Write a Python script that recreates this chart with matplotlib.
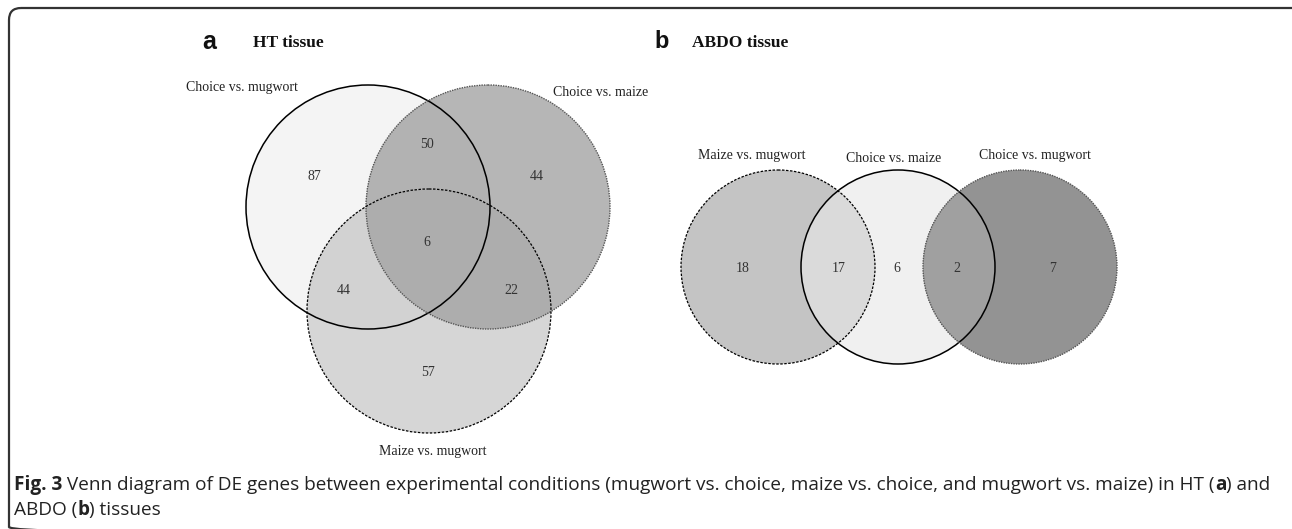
import matplotlib
matplotlib.use("Agg")
import matplotlib.pyplot as plt
from matplotlib.patches import Circle, FancyBboxPatch

# panel a: HT tissue
ht_sets = ["Choice vs. mugwort", "Choice vs. maize", "Maize vs. mugwort"]
# regions: only1, only2, only3, 1&2, 1&3, 2&3, 1&2&3
ht_counts = [87, 44, 57, 50, 44, 22, 6]

# panel b: ABDO tissue (left, middle, right)
abdo_sets = ["Maize vs. mugwort", "Choice vs. maize", "Choice vs. mugwort"]
# regions: only left, left&mid, only mid, mid&right, only right
abdo_counts = [18, 17, 6, 2, 7]

caption_line1 = [
    ("Fig. 3", "bold"),
    (" Venn diagram of DE genes between experimental conditions (mugwort vs. choice, "
     "maize vs. choice, and mugwort vs. maize) in HT (", "normal"),
    ("a", "bold"),
    (") and", "normal"),
]
caption_line2 = [("ABDO (", "normal"), ("b", "bold"), (") tissues", "normal")]

W, H = 1292, 529
fig = plt.figure(figsize=(W / 100, H / 100), dpi=100)
ax = fig.add_axes([0, 0, 1, 1])
ax.set_xlim(0, W)
ax.set_ylim(H, 0)
ax.set_aspect("equal")
ax.axis("off")

serif = "Liberation Serif"
num_kw = dict(ha="center", va="center", fontsize=10, family=serif, color="#333333")
lab_kw = dict(ha="center", va="center", fontsize=10, family=serif, color="#222222")

# frame (bottom edge falls just outside the picture, as in the scan)
ax.add_patch(FancyBboxPatch((9, 8), 1300, 531, boxstyle="round,pad=0,rounding_size=12",
                            fill=False, lw=1.6, ec="#333333"))


def circ(xy, r, **kw):
    c = Circle(xy, r, **kw)
    ax.add_patch(c)
    return c


def clipped(xy, r, clip, color):
    c = circ(xy, r, fc=color, ec="none")
    c.set_clip_path(clip)


# ---- panel a ----
ra = 122
c1, c2, c3 = (368, 207), (488, 207), (429, 311)
e1 = circ(c1, ra, fc="#f4f4f4", ec="none")
e2 = circ(c2, ra, fc="#b6b6b6", ec="none")
clipped(c1, ra, e2, "#b2b2b2")
e3 = circ(c3, ra, fc="#d6d6d6", ec="none")
clipped(c3, ra, e1, "#d2d2d2")
clipped(c3, ra, e2, "#adadad")
circ(c1, ra, fill=False, ec="black", lw=1.1)
circ(c2, ra, fill=False, ec="#555555", lw=1.0, ls=(0, (1, 0.8)))
circ(c3, ra, fill=False, ec="black", lw=0.9, ls=(0, (2, 1.2)))

ht_pos = [(314, 176), (537, 177), (428, 373), (427, 145), (344, 291), (511, 291), (427, 242)]
for (x, y), n in zip(ht_pos, ht_counts):
    ax.text(x, y, str(n), **num_kw)
ax.text(242, 88, ht_sets[0], **lab_kw)
ax.text(601, 92, ht_sets[1], **lab_kw)
ax.text(433, 451, ht_sets[2], **lab_kw)

ax.text(209, 42, "a", ha="center", va="center", fontsize=18, fontweight="bold",
        family="Liberation Sans", color="#111111")
ax.text(253, 43, "HT tissue", ha="left", va="center", fontsize=12.5, fontweight="bold",
        family=serif, color="#111111")

# ---- panel b ----
rb = 97
cl, cm, cr = (778, 267), (898, 267), (1020, 267)
el = circ(cl, rb, fc="#c4c4c4", ec="none")
em = circ(cm, rb, fc="#f0f0f0", ec="none")
er = circ(cr, rb, fc="#939393", ec="none")
clipped(cl, rb, em, "#dadada")
clipped(cr, rb, em, "#a0a0a0")
circ(cl, rb, fill=False, ec="black", lw=0.9, ls=(0, (2, 1.2)))
circ(cm, rb, fill=False, ec="black", lw=1.1)
circ(cr, rb, fill=False, ec="#555555", lw=1.0, ls=(0, (1, 0.8)))

abdo_pos = [(743, 268), (839, 268), (897, 268), (957, 268), (1053, 268)]
for (x, y), n in zip(abdo_pos, abdo_counts):
    ax.text(x, y, str(n), **num_kw)
ax.text(752, 155, abdo_sets[0], **lab_kw)
ax.text(894, 158, abdo_sets[1], **lab_kw)
ax.text(1035, 155, abdo_sets[2], **lab_kw)

ax.text(662, 41, "b", ha="center", va="center", fontsize=17, fontweight="bold",
        family="Liberation Sans", color="#111111")
ax.text(692, 43, "ABDO tissue", ha="left", va="center", fontsize=12.5, fontweight="bold",
        family=serif, color="#111111")

# ---- caption ----
renderer = fig.canvas.get_renderer()


def draw_runs(runs, x0, y):
    x = x0
    for s, wt in runs:
        t = ax.text(x, y, s, ha="left", va="center", fontsize=13.7, fontweight=wt,
                    family="Open Sans", color="#222222")
        bb = t.get_window_extent(renderer=renderer)
        x += bb.width


draw_runs(caption_line1, 14, 485)
draw_runs(caption_line2, 14, 510)

fig.savefig("out.png", dpi=100)
